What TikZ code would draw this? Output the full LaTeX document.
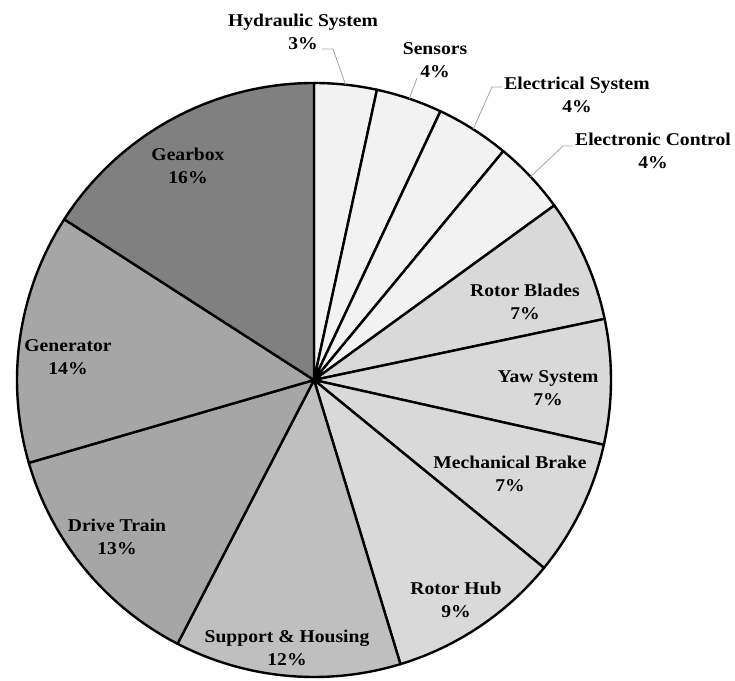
\documentclass[tikz,border=0pt]{standalone}
\usepackage{fontspec}
\usetikzlibrary{calc}
\setmainfont[FakeStretch=1.09]{Liberation Serif}
\definecolor{cA}{HTML}{F2F2F2}
\definecolor{cB}{HTML}{D9D9D9}
\definecolor{cC}{HTML}{BFBFBF}
\definecolor{cD}{HTML}{A6A6A6}
\definecolor{cE}{HTML}{808080}
\definecolor{leadc}{HTML}{A6A6A6}
\begin{document}
\begin{tikzpicture}[x=1pt,y=1pt,
  slice/.style={draw=black,line width=2.4pt,line join=round},
  lab/.style={align=center,font=\fontsize{18}{22.5}\selectfont\bfseries,inner sep=0pt},
  leader/.style={draw=leadc,line width=0.8pt}]
\fill[white] (0,0) rectangle (735,680);
\useasboundingbox (0,0) rectangle (735,680);
\coordinate (C) at (314,300);
\def\R{297}
\foreach \a/\b/\c in {0/3.4/cA,3.4/7.0/cA,7.0/11.0/cA,11.0/15.0/cA,15.0/21.7/cB,21.7/28.5/cB,28.5/35.9/cB,35.9/45.3/cB,45.3/57.6/cC,57.6/70.5/cD,70.5/84.1/cD,84.1/100/cE}{
  \pgfmathsetmacro\sa{90-3.6*\a}
  \pgfmathsetmacro\ea{90-3.6*\b}
  \filldraw[slice,fill=\c] (C) -- ++(\sa:\R) arc[start angle=\sa,end angle=\ea,radius=\R] -- cycle;
}
% inside labels
\node[lab] (gear) at (188,514) {Gearbox\\16\%};
\node[lab] (gen) at (68,323) {Generator\\14\%};
\node[lab] (drive) at (117,143) {Drive Train\\13\%};
\node[lab] (supp) at (287,32) {Support \& Housing\\12\%};
\node[lab] (hub) at (456,80) {Rotor Hub\\9\%};
\node[lab] (brake) at (510,206) {Mechanical Brake\\7\%};
\node[lab] (yaw) at (548,292) {Yaw System\\7\%};
\node[lab] (blades) at (525,378) {Rotor Blades\\7\%};
% outside labels
\node[lab] (hyd) at (303,648) {Hydraulic System\\3\%};
\node[lab] (sens) at (435,620) {Sensors\\4\%};
\node[lab] (elec) at (577,585) {Electrical System\\4\%};
\node[lab] (elct) at (653,529) {Electronic Control\\4\%};
% leader lines
\coordinate (hydA) at (322,631);
\coordinate (hydB) at (333,631);
\coordinate (hydP) at ($(C)+(83.9:\R)$);
\coordinate (sensA) at (417,602);
\coordinate (sensP) at ($(C)+(71.3:\R)$);
\coordinate (elecA) at (502,593);
\coordinate (elecB) at (492,593);
\coordinate (elecP) at ($(C)+(57.6:\R)$);
\coordinate (elctA) at (572,534);
\coordinate (elctB) at (563,534);
\coordinate (elctP) at ($(C)+(43.2:\R)$);
\draw[leader] (hydA) -- (hydB) -- (hydP);
\draw[leader] (sensA) -- (sensP);
\draw[leader] (elecA) -- (elecB) -- (elecP);
\draw[leader] (elctA) -- (elctB) -- (elctP);
\end{tikzpicture}
\end{document}
